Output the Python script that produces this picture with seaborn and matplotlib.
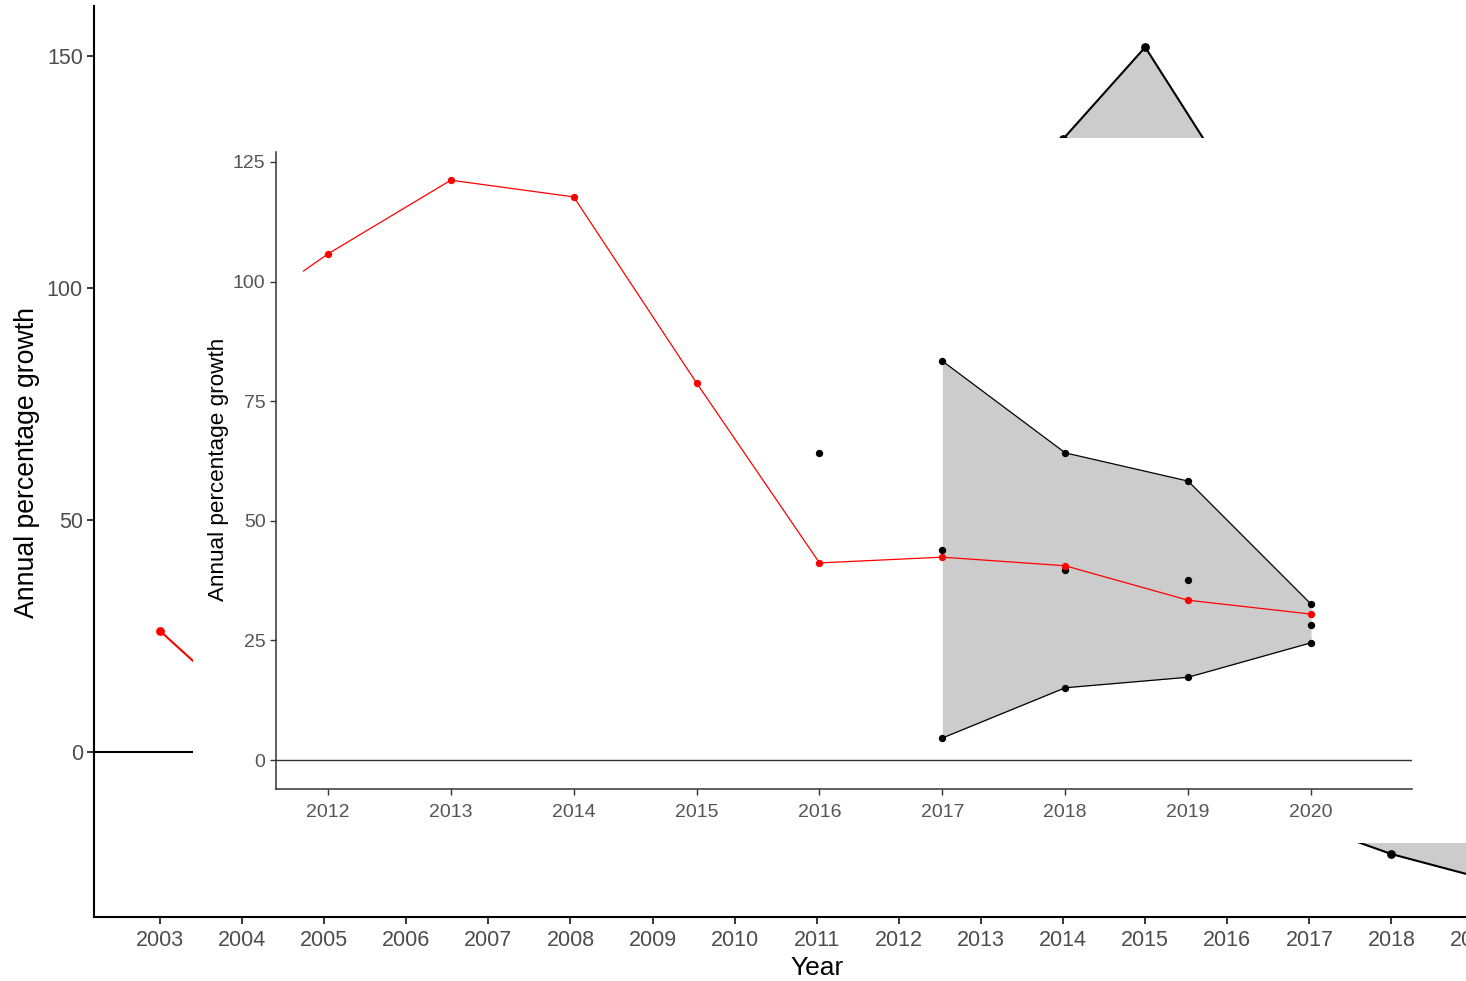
import matplotlib
matplotlib.use("Agg")
import matplotlib.pyplot as plt
import seaborn as sns

# ---------------- data: outer (background) chart ----------------
outer_mean_years = [2003, 2004]
outer_mean_vals = [26.1, 10.0]
outer_band_years = [2014, 2015, 2016, 2017, 2018, 2019]
outer_band_upper = [132.1, 151.9, 124.1, 95.0, 75.0, 60.0]
outer_band_lower = [10.0, 0.0, -8.0, -15.7, -22.0, -26.7]
outer_xticks = list(range(2003, 2020))
outer_yticks = [0, 50, 100, 150]

# ---------------- data: inset chart ----------------
inset_line_start_year = [2011.8]
inset_line_start_val = [102.2]
inset_mean_years = [2012, 2013, 2014, 2015, 2016, 2017, 2018, 2019, 2020]
inset_mean_vals = [105.8, 121.2, 117.7, 78.8, 41.2, 42.4, 40.6, 33.4, 30.5]
inset_band_years = [2017, 2018, 2019, 2020]
inset_band_upper = [83.4, 64.2, 58.3, 32.6]
inset_band_lower = [4.6, 15.1, 17.3, 24.5]
inset_point_years = [2016, 2017, 2017, 2017, 2018, 2018, 2018,
                     2019, 2019, 2019, 2020, 2020, 2020]
inset_point_vals = [64.2, 83.4, 43.9, 4.6, 64.2, 39.7, 15.1,
                    58.3, 37.6, 17.3, 32.6, 28.2, 24.5]
inset_xticks = list(range(2012, 2021))
inset_yticks = [0, 25, 50, 75, 100, 125]

ylabel = "Annual percentage growth"
xlabel = "Year"

sns.set_theme(style="ticks")
plt.rcParams["font.family"] = ["Liberation Sans", "DejaVu Sans"]

W, H = 1466, 981
fig = plt.figure(figsize=(W / 100, H / 100), dpi=100)


def frac(x0, y0, x1, y1):
    return [x0 / W, 1 - y1 / H, (x1 - x0) / W, (y1 - y0) / H]


TICK_GRAY = "#4d4d4d"

# ---------------- outer axes ----------------
ax = fig.add_axes(frac(94, 5.5, 1540, 917))
ax.set_xlim(2002.196, 2019.809)
ax.set_ylim(-35.56, 160.88)
ax.axhline(0, color="black", lw=1.5, zorder=1)
ax.fill_between(outer_band_years, outer_band_lower, outer_band_upper,
                color="#cccccc", lw=0, zorder=1)
sns.lineplot(x=outer_band_years, y=outer_band_upper, ax=ax, color="black",
             lw=1.5, estimator=None, zorder=2)
sns.lineplot(x=outer_band_years, y=outer_band_lower, ax=ax, color="black",
             lw=1.5, estimator=None, zorder=2)
sns.scatterplot(x=outer_band_years + outer_band_years,
                y=outer_band_upper + outer_band_lower, ax=ax,
                color="black", s=40, linewidth=0, zorder=3)
sns.lineplot(x=outer_mean_years, y=outer_mean_vals, ax=ax, color="red",
             lw=1.5, estimator=None, zorder=4)
sns.scatterplot(x=outer_mean_years, y=outer_mean_vals, ax=ax, color="red",
                s=40, linewidth=0, zorder=5)
ax.set_xticks(outer_xticks)
ax.set_yticks(outer_yticks)
ax.tick_params(axis="both", labelsize=15.5, colors=TICK_GRAY, length=5,
               width=1.1, pad=3)
ax.tick_params(axis="x", pad=4.5)
ax.tick_params(axis="both", color="black")
for s in ["top", "right"]:
    ax.spines[s].set_visible(False)
for s in ["left", "bottom"]:
    ax.spines[s].set_color("black")
    ax.spines[s].set_linewidth(1.5)
ax.set_ylabel(ylabel, fontsize=19.2, color="black")
ax.set_xlabel(xlabel, fontsize=19, color="black")
ax.yaxis.set_label_coords(-0.0375, 0.499)
ax.xaxis.set_label_coords(0.5, -0.043)

# ---------------- white cover (inset background) ----------------
cover = fig.add_axes(frac(193, 138, 1500, 843))
cover.set_facecolor("white")
cover.set_xticks([])
cover.set_yticks([])
for s in cover.spines.values():
    s.set_visible(False)

# ---------------- inset axes ----------------
ins = fig.add_axes(frac(276, 152, 1412, 789))
ins.set_facecolor("none")
ins.set_xlim(2011.577, 2020.822)
ins.set_ylim(-6.06, 127.09)
ins.axhline(0, color="#333333", lw=1.0, zorder=1)
ins.fill_between(inset_band_years, inset_band_lower, inset_band_upper,
                 color="#cccccc", lw=0, zorder=1)
sns.lineplot(x=inset_band_years, y=inset_band_upper, ax=ins, color="black",
             lw=0.9, estimator=None, zorder=2)
sns.lineplot(x=inset_band_years, y=inset_band_lower, ax=ins, color="black",
             lw=0.9, estimator=None, zorder=2)
sns.scatterplot(x=inset_point_years, y=inset_point_vals, ax=ins,
                color="black", s=28, linewidth=0, zorder=3)
sns.lineplot(x=inset_line_start_year + inset_mean_years,
             y=inset_line_start_val + inset_mean_vals, ax=ins, color="red",
             lw=0.9, estimator=None, zorder=4)
sns.scatterplot(x=inset_mean_years, y=inset_mean_vals, ax=ins, color="red",
                s=28, linewidth=0, zorder=5)
ins.set_xticks(inset_xticks)
ins.set_yticks(inset_yticks)
ins.tick_params(axis="both", labelsize=14, colors="#555555", length=4.5,
                width=1.0, pad=3)
ins.tick_params(axis="x", pad=6)
ins.tick_params(axis="both", color="#333333")
for s in ["top", "right"]:
    ins.spines[s].set_visible(False)
for s in ["left", "bottom"]:
    ins.spines[s].set_color("#333333")
    ins.spines[s].set_linewidth(1.1)
ins.set_ylabel(ylabel, fontsize=16.2, color="black")
ins.set_xlabel("")
ins.yaxis.set_label_coords(-0.0415, 0.5024)

fig.savefig("out.png", dpi=100)
